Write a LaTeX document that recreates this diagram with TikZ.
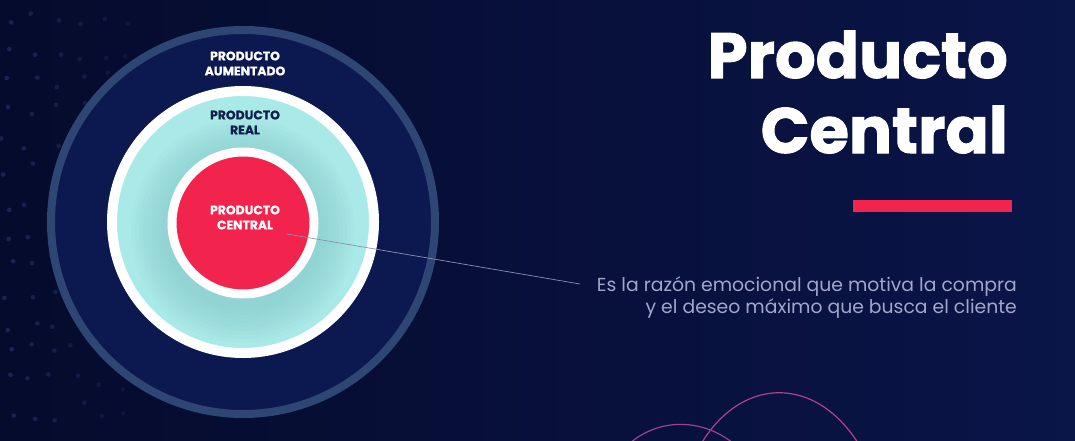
\documentclass[tikz,border=0pt]{standalone}
\usepackage{fontspec}
\setmainfont{Poppins}
\newfontfamily\heavyfont{Poppins}[BoldFeatures={FakeBold=1.6}]
\newfontfamily\labfont{Poppins}[BoldFeatures={FakeBold=0.8}]
\definecolor{bgL}{HTML}{050B2C}
\definecolor{bgR}{HTML}{0A1548}
\definecolor{dotc}{HTML}{1C2F63}
\definecolor{ringB}{HTML}{2D4674}
\definecolor{navy}{HTML}{0C1950}
\definecolor{cyanc}{HTML}{A9EAE8}
\definecolor{cyand}{HTML}{7FC2C4}
\definecolor{redc}{HTML}{F2234C}
\definecolor{labdark}{HTML}{10204A}
\definecolor{desc}{HTML}{A2A6CA}
\definecolor{linec}{HTML}{8C90B4}
\definecolor{curvA}{HTML}{7D3C9C}
\definecolor{curvB}{HTML}{D24580}
\tikzset{
  disc/.style={circle, inner sep=0pt, outer sep=0pt},
  lab/.style={font=\labfont\fontsize{12.4}{15}\selectfont\bfseries, align=center, inner sep=0pt},
  titletxt/.style={font=\heavyfont\fontsize{64}{75}\selectfont\bfseries, text=white, inner sep=0pt, anchor=base east},
  desctxt/.style={font=\fontsize{18.8}{22}\selectfont, text=desc, inner sep=0pt, anchor=base east}
}
\begin{document}
\begin{tikzpicture}[x=1pt,y=-1pt]
\useasboundingbox (0,0) rectangle (1075,441);
\shade[left color=bgL, right color=bgR] (0,0) rectangle (1075,441);
% dots
\pgfmathsetseed{11}
\foreach \i in {0,...,5}{
  \foreach \j in {0,...,13}{
    \pgfmathsetmacro\dx{6+\i*24+rand*8}
    \pgfmathsetmacro\dy{22+\j*30+rand*10}
    \pgfmathsetmacro\op{0.75-\i*0.09}
    \fill[dotc, opacity=\op] (\dx,\dy) circle (2.3);
  }
}
% circles
\node[disc, draw=ringB, line width=8pt, fill=navy, minimum size=384pt] (aug) at (243,222) {};
\node[disc, draw=white, line width=10pt, fill=cyanc, minimum size=262pt] (real) at (243,222) {};
% soft shadow round the centre disc
\foreach \r in {80,84,...,112}{
  \fill[cyand, opacity=0.07] (243,231) circle (\r);
}
\node[disc, draw=white, line width=9pt, fill=redc, minimum size=142pt] (cen) at (243,223) {};
% labels
\node[lab, text=white] (laug) at (245,63.5) {PRODUCTO\\AUMENTADO};
\node[lab, text=labdark] (lreal) at (245,122.5) {PRODUCTO\\REAL};
\node[lab, text=white] (lcen) at (245,217.5) {PRODUCTO\\CENTRAL};
% title
\node[titletxt] (t1) at (1008,78) {Producto};
\node[titletxt] (t2) at (1008,153) {Central};
\fill[redc] (853,200) rectangle (1012,212);
% description
\node[desctxt] (d1) at (1017,291) {Es la razón emocional que motiva la compra};
\node[desctxt] (d2) at (1017,313) {y el deseo máximo que busca el cliente};
\coordinate (ls) at (287,234);
\coordinate (le) at (580,284);
\draw[linec, line width=0.7pt] (ls) -- (le);
% curves
\begin{scope}
\clip (0,0) rectangle (1075,441);
\draw[line width=1.2pt, curvA!40!curvB] (695,455) .. controls (735,374) and (820,370) .. (865,455);
\draw[line width=1.2pt, curvA!60!curvB] (615,460) .. controls (645,415) and (710,410) .. (750,460);
\end{scope}
\end{tikzpicture}
\end{document}
